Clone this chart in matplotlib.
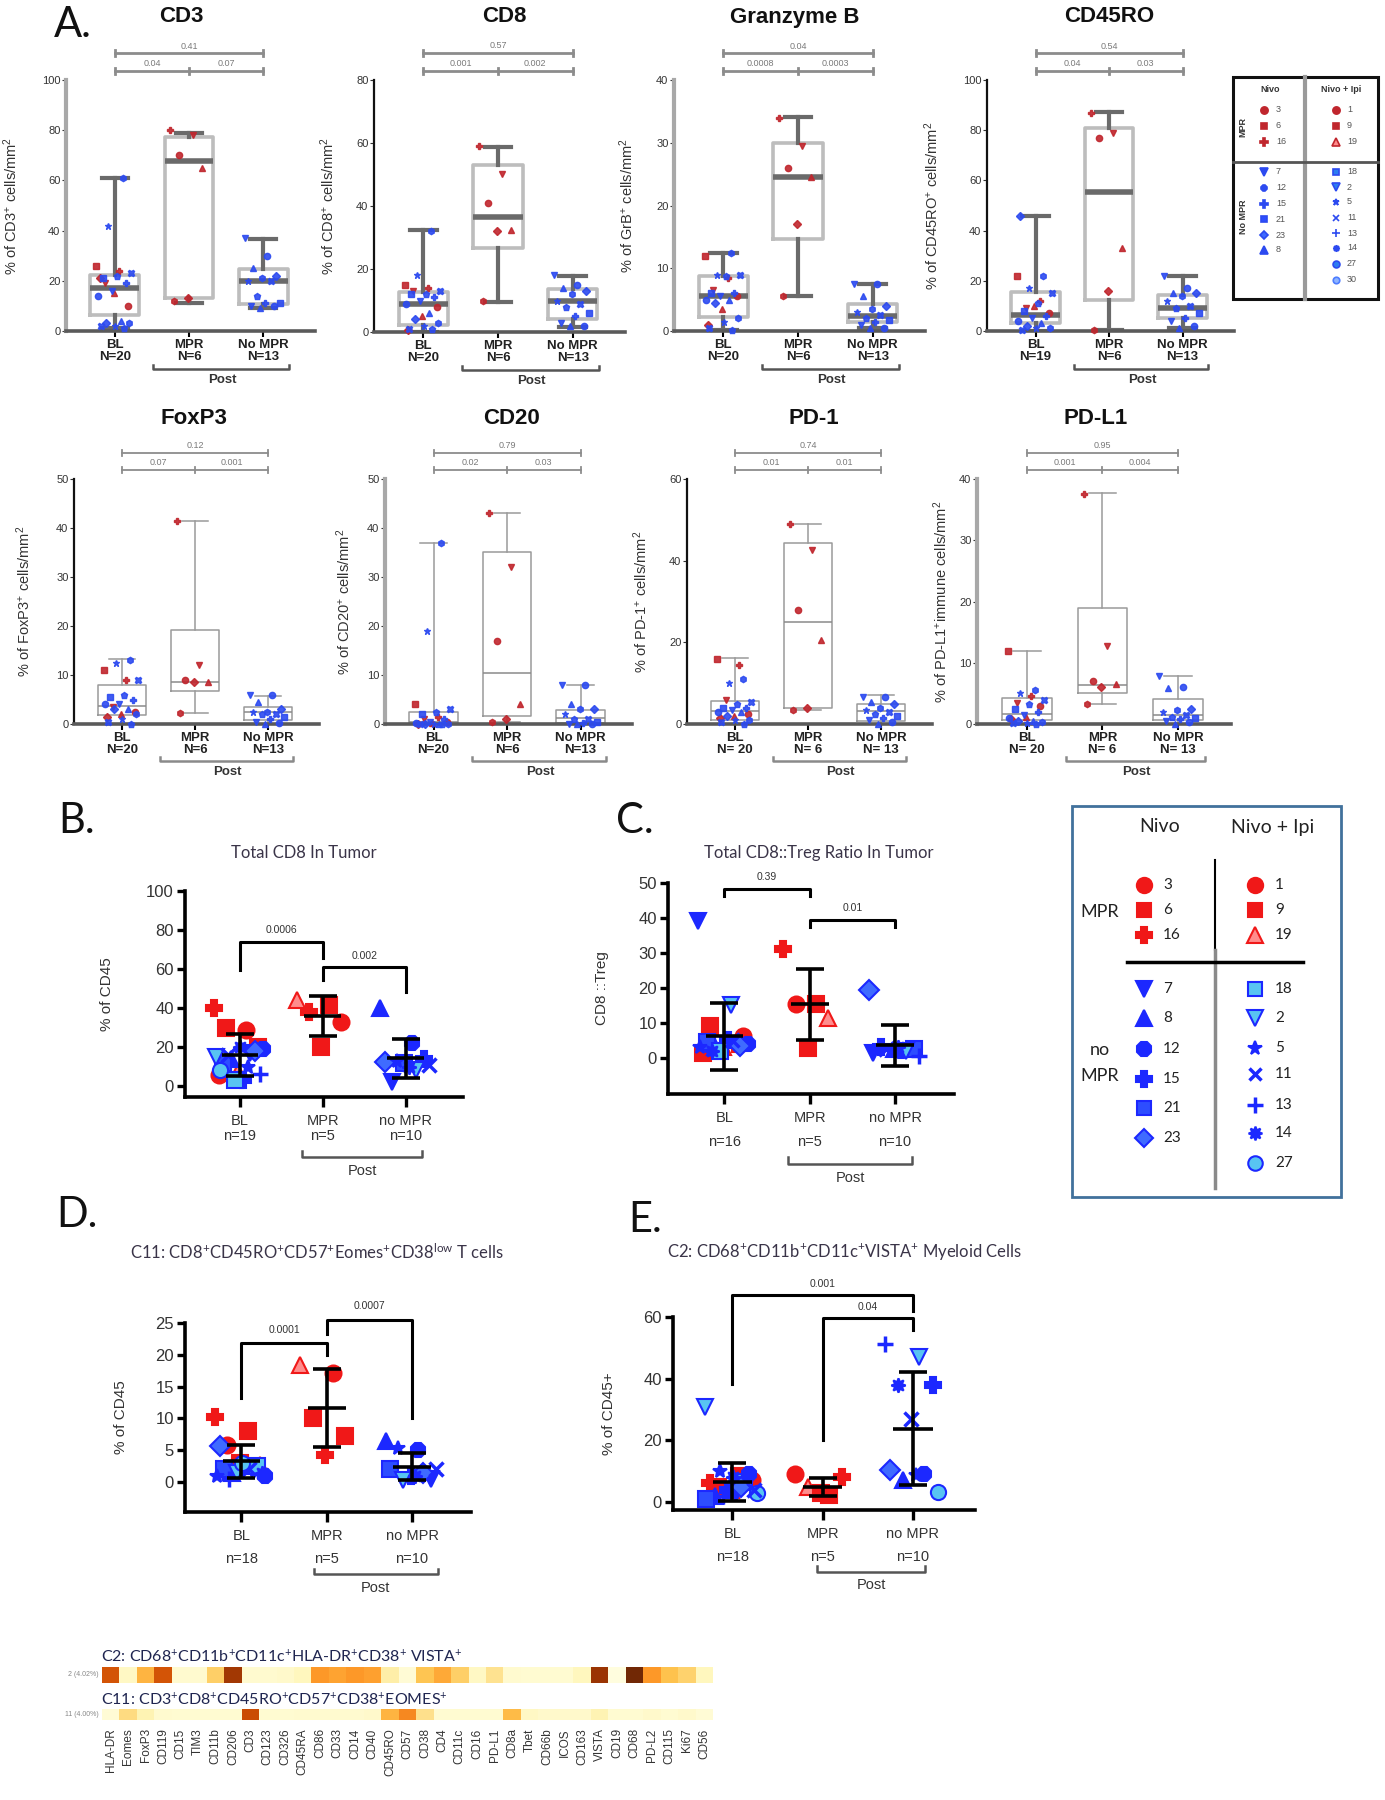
import numpy as np
import matplotlib
matplotlib.use("Agg")
import matplotlib.pyplot as plt
from matplotlib.transforms import blended_transform_factory
from matplotlib.patches import Rectangle

plt.rcParams['font.family'] = ['Liberation Sans', 'DejaVu Sans']
plt.rcParams['mathtext.default'] = 'regular'

# ====================== DATA ======================
# ---- Panel A (box plots): stats = [whislo, q1, median, q3, whishi] for BL, MPR, No MPR
cd3_stats = [[1, 6.4, 17, 22.3, 61], [11.3, 13.3, 67.7, 77.4, 79], [9, 10.8, 20, 24.6, 36.7]]
cd3_bl_mpr = [26, 24, 19, 10, 15, 21]
cd3_bl_nompr = [61, 42, 23, 22, 21, 19, 16, 14, 4, 3, 3, 2, 2, 1]
cd3_mpr = [80, 78, 70, 65, 13, 12]
cd3_nompr = [37, 30, 25, 22, 21, 20, 20, 14, 11, 11, 10, 10, 9]

cd8_stats = [[0, 2.1, 8.8, 12.7, 32.3], [9.5, 26.8, 36.5, 53, 58.8], [1.6, 4.2, 9.7, 13.5, 17.7]]
cd8_bl_mpr = [15, 14, 13, 8, 5, 0.5]
cd8_bl_nompr = [32, 18, 13, 12, 12, 11, 10, 9, 6, 4, 3, 2, 1, 1]
cd8_mpr = [59, 50, 41, 32.5, 32, 10]
cd8_nompr = [18, 15, 14, 13, 12, 10, 9, 8, 6, 5, 3, 2, 2]

grb_stats = [[0.2, 2.3, 5.5, 8.8, 12.5], [5.6, 14.6, 24.6, 30, 34.1], [0.4, 1.5, 2.4, 4.3, 7.5]]
grb_bl_mpr = [12, 8.5, 6.5, 5.5, 3.5, 1]
grb_bl_nompr = [12.5, 9, 9, 8.8, 6, 6, 5.5, 5, 5, 4.5, 2, 1.5, 0.5, 0.2]
grb_mpr = [34, 29.5, 26, 24.5, 17, 5.5]
grb_nompr = [7.5, 7.5, 5.5, 4, 3.5, 3, 2.5, 2, 1.8, 1.5, 1, 0.5, 0.5]

cd45ro_stats = [[0, 3, 6.4, 15.4, 46], [0.4, 12.4, 55.2, 80.7, 87.4], [1, 5, 9, 14.3, 22]]
cd45ro_bl_mpr = [22, 12, 9, 7, 10]
cd45ro_bl_nompr = [46, 22, 17, 15, 11, 8, 6, 5, 4, 3, 2, 1, 1, 0.5]
cd45ro_mpr = [87, 79, 77, 33, 16, 0.5]
cd45ro_nompr = [22, 17, 15, 15, 14, 12, 10, 9, 7, 5, 4, 2, 1]

foxp3_stats = [[0, 1.9, 3.6, 8, 13.3], [2.2, 6.8, 8.5, 19.1, 41.4], [0, 0.9, 2.4, 3.5, 5.8]]
foxp3_bl_mpr = [11, 9, 3.5, 2.5, 2, 1.5]
foxp3_bl_nompr = [13, 12.5, 9, 6, 5.5, 5, 4, 4, 3, 3, 2, 1, 0.5, 0]
foxp3_mpr = [41.5, 12, 9, 8.5, 8.5, 2.2]
foxp3_nompr = [6, 6, 4.5, 3, 2.5, 2.5, 2, 2, 1.5, 1, 0.5, 0.3, 0]

cd20_stats = [[0, 0, 0.5, 2.4, 37], [0.5, 1.6, 10.4, 35.1, 43], [0, 0.2, 1.2, 2.8, 8]]
cd20_bl_mpr = [4, 1.5, 1, 0.5, 0.3, 0]
cd20_bl_nompr = [37, 19, 3, 2.5, 2, 1, 0.5, 0.2, 0.1, 0, 0, 0, 0, 0]
cd20_mpr = [43, 32, 17, 4, 1, 0.5]
cd20_nompr = [8, 8, 4, 3, 3, 2, 1, 1, 0.5, 0.2, 0, 0, 0]

pd1_stats = [[0, 1.1, 3.1, 5.6, 16.2], [3.5, 3.9, 25, 44.3, 49], [0, 0.7, 3.3, 5, 7]]
pd1_bl_mpr = [16, 14.5, 6, 2.5, 2, 1.5]
pd1_bl_nompr = [11, 10, 5.5, 5, 4, 4, 3.5, 3, 3, 2, 1, 1, 0.5, 0]
pd1_mpr = [49, 42.5, 28, 20.5, 4, 3.5]
pd1_nompr = [6.5, 6.5, 5.5, 5, 4, 3.5, 3, 2.5, 2, 1.5, 1, 0.5, 0]

pdl1_stats = [[0, 0.7, 1.7, 4.2, 12], [3.2, 5.1, 6.4, 18.9, 37.7], [0, 0.7, 1.5, 4.1, 7.9]]
pdl1_bl_mpr = [12, 4.5, 3.5, 3, 1.2, 0.8]
pdl1_bl_nompr = [5.5, 5, 4, 3.3, 2.5, 2, 1.5, 1, 0.5, 0.5, 0.3, 0.2, 0.1, 0]
pdl1_mpr = [37.5, 12.8, 7, 6.5, 6, 3.2]
pdl1_nompr = [7.8, 6, 5.8, 2.5, 2.3, 2, 1.5, 1.2, 1, 0.8, 0.5, 0.3, 0]

groups_A = ["BL", "MPR", "No MPR"]
# p-values: [BL vs NoMPR (top), BL vs MPR, MPR vs NoMPR]
cd3_p = ["0.41", "0.04", "0.07"]
cd8_p = ["0.57", "0.001", "0.002"]
grb_p = ["0.04", "0.0008", "0.0003"]
cd45ro_p = ["0.54", "0.04", "0.03"]
foxp3_p = ["0.12", "0.07", "0.001"]
cd20_p = ["0.79", "0.02", "0.03"]
pd1_p = ["0.74", "0.01", "0.01"]
pdl1_p = ["0.95", "0.001", "0.004"]

# ---- Panels B-E (dot plots with mean +/- SD), by patient id
groups_B = ["BL", "MPR", "no MPR"]
b_bl_ids = [16, 3, 6, 9, 19, 1, 7, 8, 12, 15, 21, 23, 18, 2, 5, 11, 13, 14, 27]
b_bl_vals = [40, 28.7, 30, 20, 7.3, 5.6, 17, 14, 19, 3, 12, 18, 3, 15, 10, 16, 6, 20, 8]
b_mpr_ids = [19, 6, 16, 3, 9]
b_mpr_vals = [44, 41.5, 38, 33, 20]
b_nompr_ids = [8, 12, 7, 15, 21, 23, 2, 5, 11, 14]
b_nompr_vals = [40, 22, 2.2, 14, 12, 12.5, 8, 13, 11, 10]
b_mean = [15.9, 35.8, 14.2]
b_sd = [10.9, 10.2, 10.1]
b_n = ["n=19", "n=5", "n=10"]
b_p = ["0.0006", "0.002"]

c_bl_ids = [7, 2, 9, 3, 19, 6, 16, 8, 12, 15, 21, 23, 18, 5, 11, 14]
c_bl_vals = [39, 15, 9, 6.2, 3, 1.5, 4, 3, 4, 5, 4.5, 3.5, 2, 3, 5, 2]
c_mpr_ids = [16, 6, 1, 19, 9]
c_mpr_vals = [31, 15.3, 15.3, 11.5, 2.9]
c_nompr_ids = [23, 12, 15, 21, 8, 7, 2, 11, 13, 14]
c_nompr_vals = [19.5, 2, 3, 2.5, 2.5, 1.5, 2, 2.5, 0.5, 3]
c_mean = [6.2, 15.3, 3.6]
c_sd = [9.6, 10.2, 5.9]
c_n = ["n=16", "n=5", "n=10"]
c_p = ["0.39", "0.01"]

d_bl_ids = [16, 6, 3, 19, 9, 23, 7, 8, 12, 15, 21, 18, 2, 5, 11, 13, 14, 27]
d_bl_vals = [10.3, 8, 5.9, 2.7, 3, 5.7, 2, 1.5, 1, 2.5, 2, 2.5, 1.5, 1, 2, 0.5, 1.5, 3]
d_mpr_ids = [19, 3, 9, 6, 16]
d_mpr_vals = [18.4, 17.1, 10, 7.2, 4.3]
d_nompr_ids = [8, 12, 5, 7, 15, 21, 23, 2, 11, 14]
d_nompr_vals = [6.4, 5.1, 5.3, 0.5, 1, 2, 1.5, 0.3, 2, 1]
d_mean = [3.25, 11.6, 2.4]
d_sd = [2.6, 6.1, 2.1]
d_n = ["n=18", "n=5", "n=10"]
d_p = ["0.0001", "0.0007"]

e_bl_ids = [2, 9, 6, 3, 19, 16, 18, 13, 27, 7, 8, 12, 15, 21, 23, 5, 11, 14]
e_bl_vals = [30.8, 8.5, 5, 7, 4, 6, 6.5, 2, 3, 3, 2, 9, 4, 1, 5, 10, 4, 8]
e_mpr_ids = [3, 6, 19, 16, 9]
e_mpr_vals = [9.2, 2.2, 5, 8.1, 3]
e_nompr_ids = [13, 2, 14, 15, 11, 23, 12, 8, 27, 5]
e_nompr_vals = [51.4, 47, 37.8, 37.8, 27, 10.3, 9.2, 7, 3.2, 8.6]
e_mean = [6.5, 4.9, 23.8]
e_sd = [6.3, 3.0, 18.3]
e_n = ["n=18", "n=5", "n=10"]
e_p = ["0.001", "0.04"]

# ---- legends (patient ids)
leg_mpr_nivo = [3, 6, 16]
leg_mpr_combo = [1, 9, 19]
leg_no_nivo = [7, 8, 12, 15, 21, 23]
leg_no_combo = [18, 2, 5, 11, 13, 14, 27]
small_no_nivo = [7, 12, 15, 21, 23, 8]
small_no_combo = [18, 2, 5, 11, 13, 14, 27, 30]

# ---- heatmap
hm_markers = ["HLA-DR", "Eomes", "FoxP3", "CD119", "CD15", "TIM3", "CD11b", "CD206", "CD3",
              "CD123", "CD326", "CD45RA", "CD86", "CD33", "CD14", "CD40", "CD45RO", "CD57",
              "CD38", "CD4", "CD11c", "CD16", "PD-L1", "CD8a", "Tbet", "CD66b", "ICOS",
              "CD163", "VISTA", "CD19", "CD68", "PD-L2", "CD115", "Ki67", "CD56"]
hm_c2 = [0.72, 0.1, 0.42, 0.72, 0.07, 0.07, 0.33, 0.85, 0.07, 0.07, 0.08, 0.12, 0.5, 0.47,
         0.5, 0.48, 0.18, 0.05, 0.37, 0.45, 0.33, 0.1, 0.25, 0.07, 0.06, 0.06, 0.06, 0.12,
         0.87, 0.02, 0.97, 0.5, 0.38, 0.32, 0.12]
hm_c11 = [0.05, 0.28, 0.15, 0.07, 0.06, 0.06, 0.06, 0.06, 0.75, 0.06, 0.06, 0.07, 0.07, 0.07,
          0.07, 0.08, 0.42, 0.55, 0.26, 0.06, 0.06, 0.06, 0.06, 0.4, 0.1, 0.08, 0.08, 0.08,
          0.15, 0.06, 0.06, 0.08, 0.06, 0.08, 0.05]

# ====================== LAYOUT / STYLE ======================
W, H = 1385, 1800
fig = plt.figure(figsize=(W / 100, H / 100), dpi=100)
fig.patch.set_facecolor('white')


def rect(x0, y0, x1, y1):
    return [x0 / W, 1 - y1 / H, (x1 - x0) / W, (y1 - y0) / H]


ov = fig.add_axes([0, 0, 1, 1])
ov.set_xlim(0, W)
ov.set_ylim(H, 0)
ov.axis('off')
ov.patch.set_alpha(0)

RED = '#f01818'
BLUE = '#1c28ff'
LB = '#58c4f2'
ARED = '#c0262d'
ABLUE = '#2c4af0'


def pstyle(pid, red, blue, lb):
    s = {
        3: ('o', red, red, 1.0), 6: ('s', red, red, 0.95), 16: ('P', red, red, 1.05),
        1: ('o', red, red, 1.0), 9: ('s', red, red, 0.95), 19: ('^', '#ff8c8c', red, 1.0),
        7: ('v', blue, blue, 1.05), 8: ('^', blue, blue, 1.05), 12: ('8', blue, blue, 0.95),
        15: ('P', blue, blue, 1.0), 21: ('s', '#2d4dff', blue, 0.95), 23: ('D', '#3f6bff', blue, 0.85),
        18: ('s', lb, blue, 0.95), 2: ('v', lb, blue, 1.05), 5: ('*', blue, blue, 0.9),
        11: ('x', blue, blue, 0.85), 13: ('+', blue, blue, 1.0), 14: ((8, 1, 0), blue, blue, 0.9),
        27: ('o', lb, blue, 0.95), 30: ('o', '#8fb4ff', '#4d7dff', 0.9),
    }[pid]
    mew = 2.5 if s[0] in ('x', '+') else 1.5
    return dict(marker=s[0], mfc=s[1], mec=s[2], mew=mew), s[3]


def spread(n, width):
    if n <= 1:
        return np.zeros(max(n, 1))
    return ((np.arange(n) * 0.6180339) % 1.0 - 0.5) * width


AMK = ['s', 'P', 'v', 'o', '^', 'D', 'h', '*', 'X', 'p']


def box_panel(px, stats, bl_red, bl_blue, mpr, nompr, ymax, ystep, title, title_x, title_y,
              ylabel, ylab_x, ns, pv, heavy, left_gray):
    ax = fig.add_axes(rect(*px))
    ax.patch.set_alpha(0)
    ax.set_xlim(-0.66, 2.7)
    ax.set_ylim(0, ymax)
    st = [dict(whislo=s[0], q1=s[1], med=s[2], q3=s[3], whishi=s[4], fliers=[]) for s in stats]
    if heavy:
        bp = dict(color='#bdbdbd', linewidth=2.6)
        mp = dict(color='#6a6a6a', linewidth=4.0)
        wp = dict(color='#6a6a6a', linewidth=3.0)
    else:
        bp = dict(color='#9a9a9a', linewidth=1.1)
        mp = dict(color='#8a8a8a', linewidth=1.1)
        wp = dict(color='#9a9a9a', linewidth=1.1)
    ax.bxp(st, positions=[0, 1, 2], widths=0.66, showfliers=False, boxprops=bp,
           medianprops=mp, whiskerprops=wp, capprops=wp, capwidths=0.36, manage_ticks=False)
    bl = list(bl_red) + list(bl_blue)
    cols = [ARED] * len(bl_red) + [ABLUE] * len(bl_blue)
    for gi, (vals, cl) in enumerate([(bl, cols), (mpr, [ARED] * len(mpr)), (nompr, [ABLUE] * len(nompr))]):
        offs = spread(len(vals), 0.5)
        for i, v in enumerate(vals):
            ax.plot(gi + offs[i], v, ls='none', marker=AMK[(i + gi) % len(AMK)], color=cl[i],
                    ms=4.5, alpha=0.9, clip_on=False, zorder=4)
    for s in ('top', 'right'):
        ax.spines[s].set_visible(False)
    ax.spines['left'].set_color('#a8a8a8' if left_gray else '#111111')
    ax.spines['left'].set_linewidth(3 if left_gray else 1.6)
    ax.spines['bottom'].set_color('#5a5a5a')
    ax.spines['bottom'].set_linewidth(2.6)
    ax.set_yticks(np.arange(0, ymax + 0.01, ystep))
    ax.tick_params(axis='y', labelsize=8, length=3, color='#333', labelcolor='#333', pad=1)
    ax.set_xticks([0, 1, 2])
    ax.set_xticklabels([f"{g}\n{n}" for g, n in zip(groups_A, ns)], fontsize=9.5,
                       fontweight='bold', linespacing=1.0, color='#222')
    ax.tick_params(axis='x', length=4, width=1.5, pad=2)
    ax.set_ylabel(ylabel, fontsize=10.5, color='#333')
    ax.yaxis.set_label_coords(ylab_x, 0.5)
    tr = blended_transform_factory(ax.transData, ax.transAxes)
    lc = '#8c8c8c'
    lw = 2.0 if heavy else 1.3
    ylo, yhi, tk = 1.036, 1.107, 0.012
    ax.plot([0, 2], [ylo, ylo], transform=tr, color=lc, lw=lw, clip_on=False)
    ax.plot([0, 2], [yhi, yhi], transform=tr, color=lc, lw=lw, clip_on=False)
    for xx in (0, 1, 2):
        ax.plot([xx, xx], [ylo - tk, ylo + tk], transform=tr, color=lc, lw=lw, clip_on=False)
    for xx in (0, 2):
        ax.plot([xx, xx], [yhi - tk, yhi + tk], transform=tr, color=lc, lw=lw, clip_on=False)
    ax.text(1, yhi + 0.028, pv[0], transform=tr, ha='center', va='center', fontsize=6.5, color='#7a7a7a')
    ax.text(0.5, ylo + 0.03, pv[1], transform=tr, ha='center', va='center', fontsize=6.5, color='#7a7a7a')
    ax.text(1.5, ylo + 0.03, pv[2], transform=tr, ha='center', va='center', fontsize=6.5, color='#7a7a7a')
    pb = -0.15
    ax.plot([0.52, 0.52, 2.35, 2.35], [pb + 0.015, pb, pb, pb + 0.015], transform=tr,
            color='#555' if heavy else '#8a8a8a', lw=1.8, clip_on=False)
    ax.text(1.45, pb - 0.045, 'Post', transform=tr, ha='center', va='center', fontsize=9.5,
            fontweight='bold', color='#333')
    ov.text(title_x, title_y, title, ha='center', va='center', fontsize=16, fontweight='bold',
            color='#111')
    return ax


# ---------------- Panel A ----------------
ov.text(54, 37, 'A.', fontsize=30, family='Lato', color='#111', va='baseline')
box_panel((66, 80, 315, 331), cd3_stats, cd3_bl_mpr, cd3_bl_nompr, cd3_mpr, cd3_nompr, 100, 20,
          'CD3', 181, 17, '% of CD3$^{+}$ cells/mm$^{2}$', -0.185, ["N=20", "N=6", "N=13"], cd3_p, True, True)
box_panel((374, 80, 625, 332), cd8_stats, cd8_bl_mpr, cd8_bl_nompr, cd8_mpr, cd8_nompr, 80, 20,
          'CD8', 504, 17, '% of CD8$^{+}$ cells/mm$^{2}$', -0.147, ["N=20", "N=6", "N=13"], cd8_p, True, False)
box_panel((674, 80, 925, 331), grb_stats, grb_bl_mpr, grb_bl_nompr, grb_mpr, grb_nompr, 40, 10,
          'Granzyme B', 795, 17, '% of GrB$^{+}$ cells/mm$^{2}$', -0.15, ["N=20", "N=6", "N=13"], grb_p, True, True)
box_panel((987, 80, 1234, 331), cd45ro_stats, cd45ro_bl_mpr, cd45ro_bl_nompr, cd45ro_mpr, cd45ro_nompr, 100, 20,
          'CD45RO', 1109, 17, '% of CD45RO$^{+}$ cells/mm$^{2}$', -0.186, ["N=19", "N=6", "N=13"], cd45ro_p, True, False)
box_panel((74, 479, 319, 724), foxp3_stats, foxp3_bl_mpr, foxp3_bl_nompr, foxp3_mpr, foxp3_nompr, 50, 10,
          'FoxP3', 194, 418, '% of FoxP3$^{+}$ cells/mm$^{2}$', -0.167, ["N=20", "N=6", "N=13"], foxp3_p, False, False)
box_panel((385, 479, 632, 724), cd20_stats, cd20_bl_mpr, cd20_bl_nompr, cd20_mpr, cd20_nompr, 50, 10,
          'CD20', 512, 418, '% of CD20$^{+}$ cells/mm$^{2}$', -0.13, ["N=20", "N=6", "N=13"], cd20_p, False, True)
box_panel((687, 479, 932, 724), pd1_stats, pd1_bl_mpr, pd1_bl_nompr, pd1_mpr, pd1_nompr, 60, 20,
          'PD-1', 814, 418, '% of PD-1$^{+}$ cells/mm$^{2}$', -0.15, ["N= 20", "N= 6", "N= 13"], pd1_p, False, False)
box_panel((977, 479, 1231, 724), pdl1_stats, pdl1_bl_mpr, pdl1_bl_nompr, pdl1_mpr, pdl1_nompr, 40, 10,
          'PD-L1', 1096, 418, '% of PD-L1$^{+}$immune cells/mm$^{2}$', -0.106, ["N= 20", "N= 6", "N= 13"], pdl1_p, False, True)

# small legend (panel A)
ov.add_patch(Rectangle((1233, 77), 145, 222, fill=False, ec='#111', lw=2.2))
ov.plot([1305, 1305], [77, 299], color='#9a9a9a', lw=3)
ov.plot([1233, 1378], [162, 162], color='#555', lw=2)
ov.text(1270, 90, 'Nivo', ha='center', va='center', fontsize=6.5, fontweight='bold', color='#333')
ov.text(1341, 90, 'Nivo + Ipi', ha='center', va='center', fontsize=6.5, fontweight='bold', color='#333')
ov.text(1243, 127, 'MPR', rotation=90, ha='center', va='center', fontsize=6.5, fontweight='bold', color='#333')
ov.text(1243, 217, 'No MPR', rotation=90, ha='center', va='center', fontsize=6.5, fontweight='bold', color='#333')


def small_entries(ids, ys, xm, xn, red):
    for pid, yy in zip(ids, ys):
        kw, sc = pstyle(pid, ARED if red else ABLUE, ABLUE, '#2c7df0')
        kw['mew'] = min(kw['mew'], 1.2)
        ov.plot(xm, yy, ls='none', ms=5.2 * sc, **kw)
        ov.text(xn, yy, str(pid), ha='left', va='center', fontsize=6.5, color='#555')


small_entries(leg_mpr_nivo, [110, 126, 142], 1264, 1276, True)
small_entries(leg_mpr_combo, [110, 126, 142], 1336, 1347, True)
small_entries(small_no_nivo, [172, 188, 204, 219, 235, 250], 1264, 1276, False)
small_entries(small_no_combo, [172, 187, 202, 218, 233, 248, 264, 280], 1336, 1347, False)


# ---------------- Panels B-E ----------------
def dot_panel(px, ylim, yticks, groups, means, sds, ns, ylabel, ylab_x, brackets, lsp,
              post_y, post_x, title, title_xy):
    ax = fig.add_axes(rect(*px))
    ax.patch.set_alpha(0)
    ax.set_xlim(-0.66, 2.69)
    ax.set_ylim(*ylim)
    for gi, (ids, vals) in enumerate(groups):
        offs = spread(len(vals), 0.62)
        for i, (pid, v) in enumerate(zip(ids, vals)):
            kw, sc = pstyle(pid, RED, BLUE, LB)
            ax.plot(gi + offs[i], v, ls='none', ms=11.5 * sc, clip_on=False, zorder=3, **kw)
    xs = np.arange(3)
    ax.errorbar(xs, means, yerr=sds, fmt='none', ecolor='k', elinewidth=2.6, capsize=10,
                capthick=2.6, zorder=5)
    ax.hlines(means, xs - 0.22, xs + 0.22, color='k', lw=2.6, zorder=5)
    for s in ('top', 'right'):
        ax.spines[s].set_visible(False)
    for s in ('left', 'bottom'):
        ax.spines[s].set_linewidth(2.6)
        ax.spines[s].set_color('k')
    ax.set_yticks(yticks)
    ax.tick_params(axis='y', labelsize=12, length=6, width=2.4, color='k', labelcolor='#333', pad=2)
    ax.set_xticks([0, 1, 2])
    ax.set_xticklabels([f"{g}\n{n}" for g, n in zip(groups_B, ns)], fontsize=10.5,
                       linespacing=lsp, color='#333')
    ax.tick_params(axis='x', length=7, width=2.4, pad=5)
    ax.set_ylabel(ylabel, fontsize=11, color='#333')
    ax.yaxis.set_label_coords(ylab_x, 0.5)
    for (x0, x1, y, yl0, yl1, txt, ty) in brackets:
        ax.plot([x0, x0, x1, x1], [yl0, y, y, yl1], color='k', lw=2.2, clip_on=False)
        ax.text((x0 + x1) / 2, ty, txt, ha='center', va='center', fontsize=7.5, color='#333')
    tr = blended_transform_factory(ax.transData, ax.transAxes)
    ax.plot([post_x[0], post_x[0], post_x[1], post_x[1]],
            [post_y + 0.03, post_y, post_y, post_y + 0.03], transform=tr, color='#555', lw=1.8,
            clip_on=False)
    ax.text(sum(post_x) / 2, post_y - 0.07, 'Post', transform=tr, ha='center', va='center',
            fontsize=10.5, color='#333')
    ov.text(title_xy[0], title_xy[1], title, ha='center', va='center', fontsize=12, family='Lato',
            color='#3a3448')
    return ax


ov.text(58, 833, 'B.', fontsize=30, family='Lato', color='#111', va='baseline')
dot_panel((185, 891, 463, 1097), (-5.6, 100), [0, 20, 40, 60, 80, 100],
          [(b_bl_ids, b_bl_vals), (b_mpr_ids, b_mpr_vals), (b_nompr_ids, b_nompr_vals)],
          b_mean, b_sd, b_n, '% of CD45', -0.255,
          [(0, 1, 73.9, 59.4, 65.4, b_p[0], 80.0), (1, 2, 60.8, 54.3, 48.3, b_p[1], 66.5)],
          1.15, -0.29, (0.75, 2.2), 'Total CD8 In Tumor', (304, 853))

ov.text(616, 833, 'C.', fontsize=30, family='Lato', color='#111', va='baseline')
dot_panel((668, 883, 954, 1094), (-10.3, 50), [0, 10, 20, 30, 40, 50],
          [(c_bl_ids, c_bl_vals), (c_mpr_ids, c_mpr_vals), (c_nompr_ids, c_nompr_vals)],
          c_mean, c_sd, c_n, 'CD8 ::Treg', -0.206,
          [(0, 1, 48.3, 46.3, 46.3, c_p[0], 51.8), (1, 2, 39.3, 37.3, 37.3, c_p[1], 42.8)],
          1.9, -0.33, (0.75, 2.2), 'Total CD8::Treg Ratio In Tumor', (819, 853))

ov.text(56, 1227, 'D.', fontsize=30, family='Lato', color='#111', va='baseline')
dot_panel((185, 1323, 471, 1512), (-4.7, 25), [0, 5, 10, 15, 20, 25],
          [(d_bl_ids, d_bl_vals), (d_mpr_ids, d_mpr_vals), (d_nompr_ids, d_nompr_vals)],
          d_mean, d_sd, d_n, '% of CD45', -0.2,
          [(0, 1, 21.9, 13.2, 19.9, d_p[0], 23.9), (1, 2, 25.4, 23.3, 10.1, d_p[1], 27.6)],
          1.85, -0.33, (0.85, 2.3),
          'C11: CD8$^{+}$CD45RO$^{+}$CD57$^{+}$Eomes$^{+}$CD38$^{low}$ T cells', (317, 1252))

ov.text(628, 1232, 'E.', fontsize=30, family='Lato', color='#111', va='baseline')
dot_panel((673, 1317, 975, 1510), (-2.6, 60), [0, 20, 40, 60],
          [(e_bl_ids, e_bl_vals), (e_mpr_ids, e_mpr_vals), (e_nompr_ids, e_nompr_vals)],
          e_mean, e_sd, e_n, '% of CD45+', -0.19,
          [(0, 2, 67.0, 38.2, 62.0, e_p[0], 70.8), (1, 2, 59.8, 20.0, 55.7, e_p[1], 63.2)],
          1.85, -0.32, (0.94, 2.14),
          'C2: CD68$^{+}$CD11b$^{+}$CD11c$^{+}$VISTA$^{+}$ Myeloid Cells', (845, 1251))

# big legend (B-E)
ov.add_patch(Rectangle((1072, 806), 269, 391, fill=False, ec='#41719c', lw=2))
ov.text(1160, 827, 'Nivo', ha='center', va='center', fontsize=14, family='Lato', color='#222')
ov.text(1273, 827, 'Nivo + Ipi', ha='center', va='center', fontsize=14, family='Lato', color='#222')
ov.plot([1215, 1215], [860, 950], color='k', lw=1.5)
ov.plot([1215, 1215], [950, 1188], color='#8a8a8a', lw=2.5)
ov.plot([1127, 1303], [962, 962], color='k', lw=2.5)
ov.text(1100, 912, 'MPR', ha='center', va='center', fontsize=13, family='Lato', color='#222')
ov.text(1100, 1050, 'no', ha='center', va='center', fontsize=13, family='Lato', color='#222')
ov.text(1100, 1076, 'MPR', ha='center', va='center', fontsize=13, family='Lato', color='#222')


def big_entries(ids, ys, xm, xn):
    for pid, yy in zip(ids, ys):
        kw, sc = pstyle(pid, RED, BLUE, LB)
        ov.plot(xm, yy, ls='none', ms=11 * sc, **kw)
        ov.text(xn, yy, str(pid), ha='left', va='center', fontsize=11, family='Lato', color='#222')


big_entries(leg_mpr_nivo, [885, 910, 935], 1144, 1163)
big_entries(leg_mpr_combo, [885, 910, 935], 1255, 1275)
big_entries(leg_no_nivo, [989, 1018, 1049, 1079, 1108, 1138], 1144, 1163)
big_entries(leg_no_combo, [989, 1018, 1048, 1074, 1105, 1133, 1163], 1255, 1275)

# ---------------- Heatmap ----------------
ax_c2 = fig.add_axes(rect(102, 1667, 713, 1683))
ax_c2.imshow(np.array([hm_c2]), cmap='YlOrBr', vmin=0, vmax=1, aspect='auto')
ax_c2.set_xticks([])
ax_c2.set_yticks([])
for s in ax_c2.spines.values():
    s.set_visible(False)
ax_c11 = fig.add_axes(rect(102, 1709, 713, 1720))
ax_c11.imshow(np.array([hm_c11]), cmap='YlOrBr', vmin=0, vmax=1, aspect='auto')
ax_c11.set_yticks([])
ax_c11.set_xticks(np.arange(len(hm_markers)))
ax_c11.set_xticklabels(hm_markers, rotation=90, fontsize=8.5, color='#333')
ax_c11.tick_params(axis='x', length=0, pad=6)
for s in ax_c11.spines.values():
    s.set_visible(False)
ov.text(101, 1657, 'C2: CD68$^{+}$CD11b$^{+}$CD11c$^{+}$HLA-DR$^{+}$CD38$^{+}$ VISTA$^{+}$',
        ha='left', va='center', fontsize=11.5, family='Lato', color='#1f2550')
ov.text(101, 1700, 'C11: CD3$^{+}$CD8$^{+}$CD45RO$^{+}$CD57$^{+}$CD38$^{+}$EOMES$^{+}$',
        ha='left', va='center', fontsize=11.5, family='Lato', color='#1f2550')
ov.text(99, 1675, '2 (4.02%)', ha='right', va='center', fontsize=5, color='#888')
ov.text(99, 1715, '11 (4.00%)', ha='right', va='center', fontsize=5, color='#888')

fig.savefig('out.png', dpi=100, facecolor='white')
